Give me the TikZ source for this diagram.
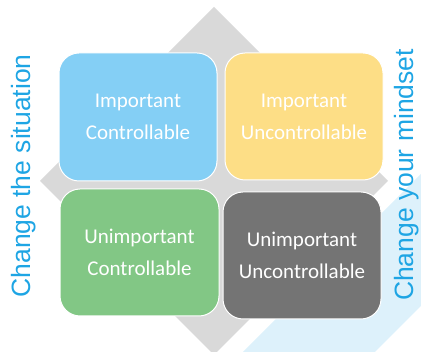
\documentclass[tikz,border=0pt]{standalone}
\usepackage{fontspec}
\setmainfont{Carlito}
\newfontfamily\sidefont{Liberation Sans}
\definecolor{diamondgray}{HTML}{D9D9D9}
\definecolor{bandblue}{HTML}{DDF1FB}
\definecolor{qblue}{HTML}{84CFF5}
\definecolor{qyellow}{HTML}{FDDE86}
\definecolor{qgreen}{HTML}{82C785}
\definecolor{qgray}{HTML}{747474}
\definecolor{sideblue}{HTML}{1EA5E4}
\begin{document}
\begin{tikzpicture}[x=1pt,y=-1pt,
  quad/.style={draw=white, line width=1pt, rounded corners=20pt},
  quadtext/.style={text=white, align=center, font=\fontsize{21}{32}\selectfont},
  sidetext/.style={text=sideblue, rotate=90, font=\sidefont\fontsize{26.5}{30}\selectfont}]
  \useasboundingbox (0,0) rectangle (421,352);
  \begin{scope}
    \clip (0,0) rectangle (421,352);
    % light band along the lower right
    \fill[bandblue] (243,352) -- (421,174) -- (421,306) -- (375,352) -- cycle;
    % grey diamond behind the quadrants
    \fill[diamondgray] (214,7) -- (388,181) -- (214,355) -- (40,181) -- cycle;
  \end{scope}
  % quadrants
  \draw[quad, fill=qblue]   (59,53)  rectangle (217,181);
  \draw[quad, fill=qyellow] (225,53) rectangle (383,180);
  \draw[quad, fill=qgreen]  (60,189) rectangle (219,316);
  \draw[quad, fill=qgray]   (223,192) rectangle (381,319);
  \node[quadtext] (ic) at (138,117) {Important\\Controllable};
  \node[quadtext] (iu) at (304,117) {Important\\Uncontrollable};
  \node[quadtext] (uc) at (139.5,252.5) {Unimportant\\Controllable};
  \node[quadtext] (uu) at (302,255.5) {Unimportant\\Uncontrollable};
  % side captions
  \node[sidetext] (left) at (24,176) {Change the situation};
  \node[sidetext] (right) at (407,175) {Change your mindset};
\end{tikzpicture}
\end{document}
